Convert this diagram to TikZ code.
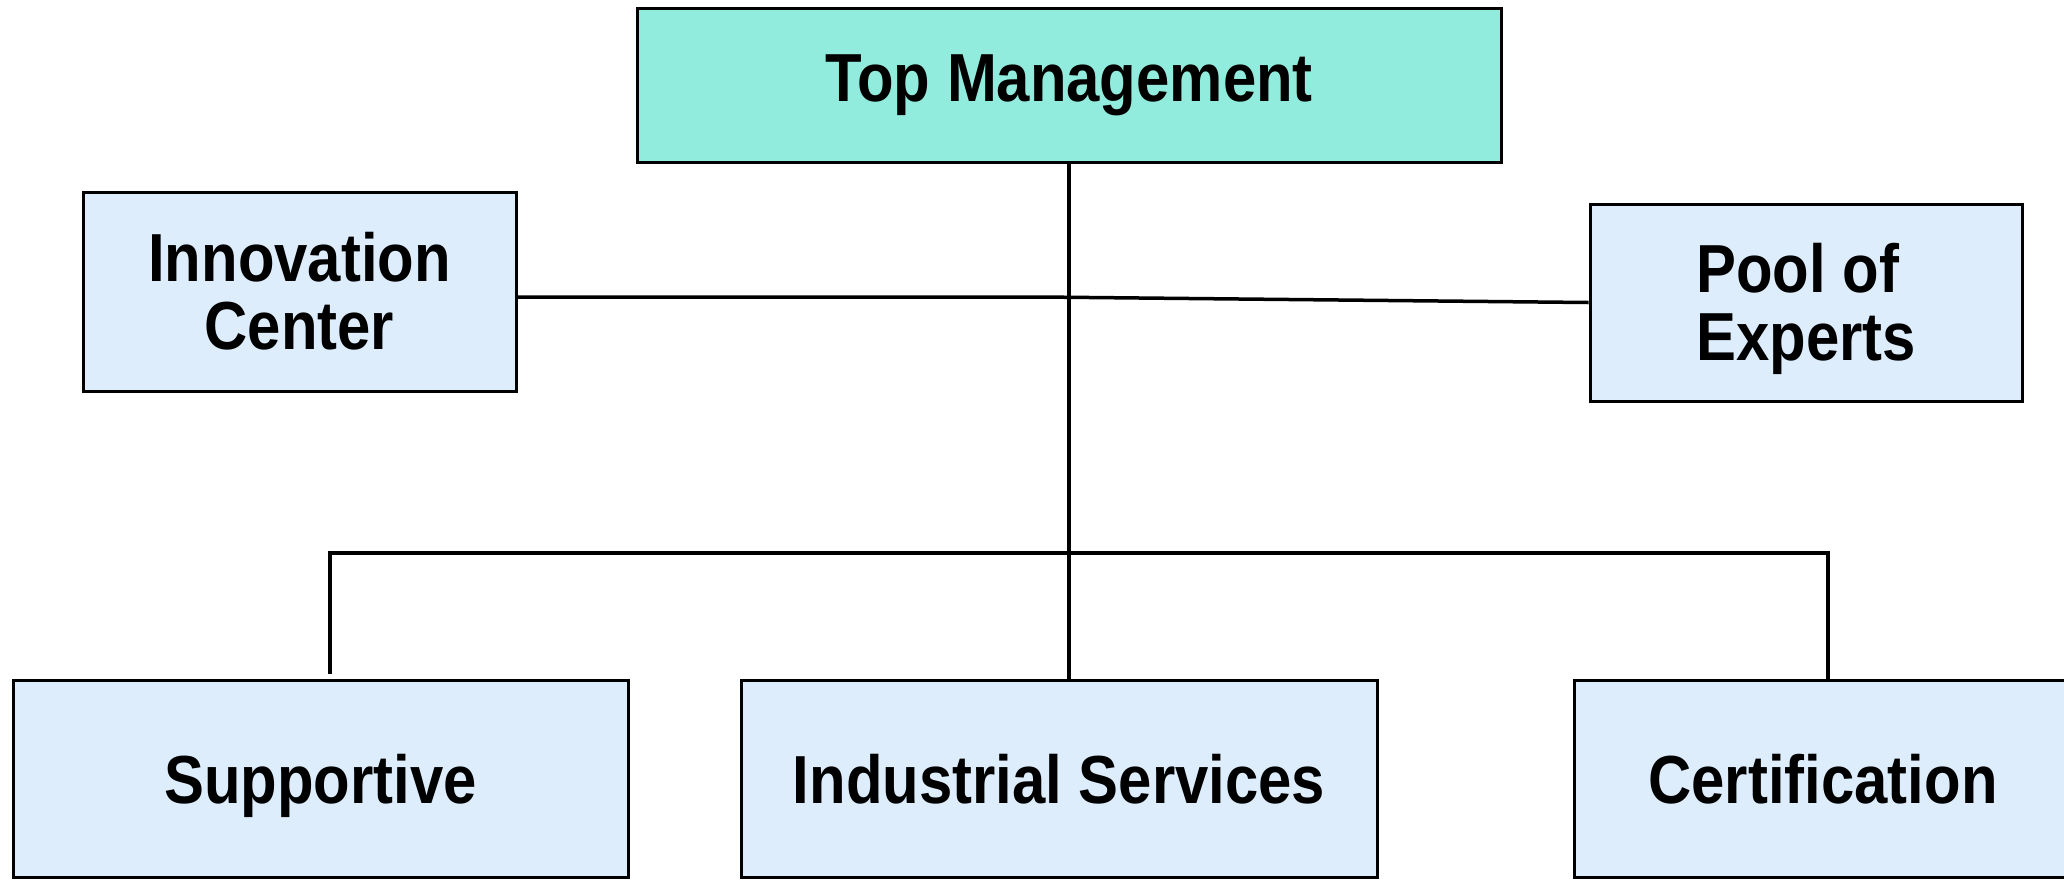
\documentclass[tikz,border=0pt]{standalone}
\usepackage{fontspec}
\setmainfont[FakeStretch=0.88]{Liberation Sans}
\usepackage{xcolor}

\definecolor{mintfill}{RGB}{146,236,221}
\definecolor{unitfill}{RGB}{221,237,252}

\begin{document}
\begin{tikzpicture}
  [x=1pt,y=-1pt,every node/.style={rectangle,draw,line width=3pt,fill=unitfill,
    inner sep=0pt,font=\fontsize{68}{68}\selectfont\bfseries},
   lowtext/.style={text height=63pt,text depth=14pt},
   link/.style={line width=3.5pt}]
  \useasboundingbox (0,0) rectangle (2064,879);

  \node[fill=mintfill,minimum width=864pt,minimum height=154pt] (top) at (1069,85) {Top Management};
  \node[minimum width=433pt,minimum height=199pt,align=center] (innov) at (299.5,291.5) {Innovation\\Center};
  \node[minimum width=432pt,minimum height=197pt,align=left,text height=130pt,text depth=14pt] (pool) at (1806,302.5) {Pool of\\Experts};
  \node[lowtext,minimum width=615pt,minimum height=197pt] (supp) at (320.5,778.5) {Supportive};
  \node[lowtext,minimum width=636pt,minimum height=197pt] (indus) at (1059,778.5) {Industrial Services};
  %\node (cert) reaches past the right edge
  \node[lowtext,minimum width=498pt,minimum height=197pt] (cert) at (1823,778.5) {Certification};

  \coordinate (mid) at (1040,297);
  \coordinate (busl) at (330,553);
  \coordinate (busr) at (1828,553);
  \coordinate (supend) at (330,674);

  \draw[link] (top.south) -- (top.south |- indus.north);
  \draw[link] (mid -| innov.east) -- (mid) -- (pool.west);
  \draw[link] (supend) -- (busl) -- (busr) -- (busr |- cert.north);

\end{tikzpicture}
\end{document}
